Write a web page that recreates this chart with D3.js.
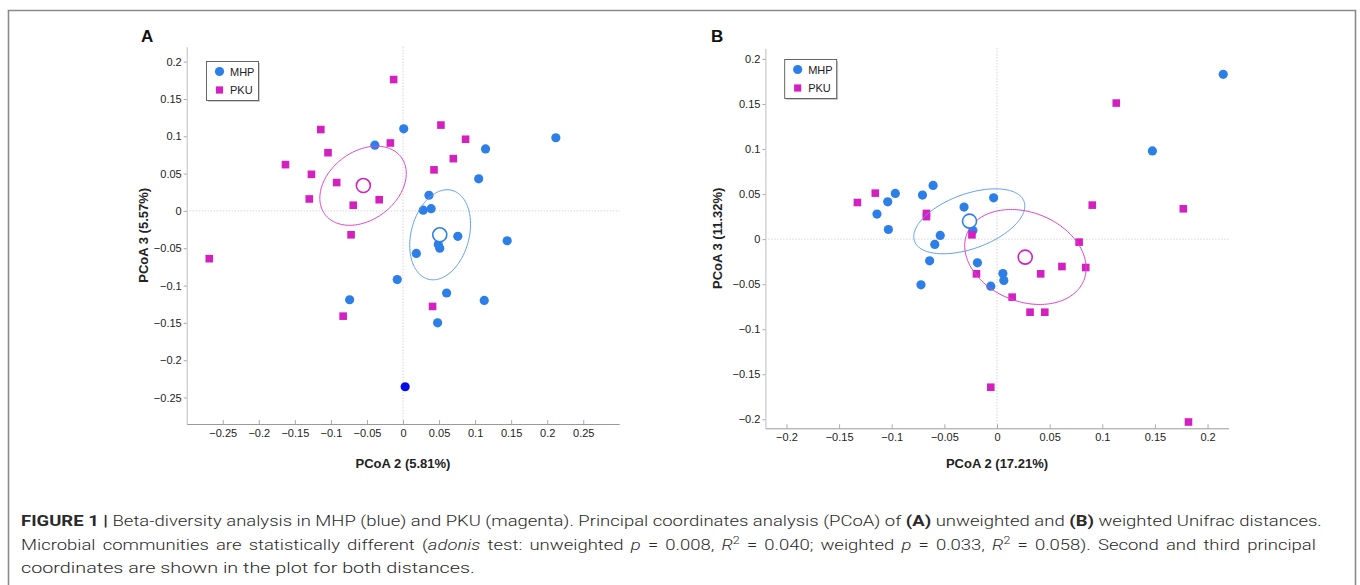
<!DOCTYPE html>
<html><head><meta charset="utf-8">
<script src="https://cdn.jsdelivr.net/npm/d3@7"></script>
<style>
body{margin:0;background:#fff;}
svg{display:block;font-family:"Liberation Sans",Arial,Helvetica,sans-serif;}
</style></head><body>
<svg id="chart" width="1360" height="585"></svg>
<script>
// ---------------- DATA ----------------
// Panel A : unweighted Unifrac, PCoA 2 vs PCoA 3
const mhpA = [[-0.039,0.088],[0.001,0.110],[0.212,0.098],[0.1145,0.083],[0.105,0.043],[0.036,0.021],
  [0.028,0.001],[0.039,0.003],[0.051,-0.050],[0.049,-0.045],[0.076,-0.034],[0.0185,-0.057],
  [0.1445,-0.040],[-0.008,-0.092],[-0.074,-0.119],[0.0605,-0.110],[0.1127,-0.120],[0.048,-0.150]];
const mhpHighlightA = [[0.003,-0.2356]];
const pkuA = [[-0.013,0.176],[-0.114,0.109],[-0.163,0.062],[-0.127,0.049],[-0.104,0.078],[-0.092,0.038],
  [-0.130,0.016],[-0.069,0.0076],[-0.033,0.015],[-0.0175,0.091],[0.0526,0.115],[0.0868,0.096],
  [0.0698,0.070],[0.043,0.055],[-0.072,-0.032],[-0.2687,-0.064],[-0.083,-0.141],[0.041,-0.128]];
const centroidMhpA = [0.051,-0.032];
const centroidPkuA = [-0.055,0.034];
// ellipses: centre, semi-diameter u, conjugate semi-diameter v (data units)
const ellipseMhpA = {c:[0.0515,-0.032], u:[0.0165,0.0595], v:[-0.0388,0.0100]};
const ellipsePkuA = {c:[-0.0554,0.0337], u:[0.0528,0.0384], v:[-0.0284,0.0365]};
const xTicksA = [-0.25,-0.2,-0.15,-0.1,-0.05,0,0.05,0.1,0.15,0.2,0.25];
const yTicksA = [-0.25,-0.2,-0.15,-0.1,-0.05,0,0.05,0.1,0.15,0.2];
const xDomainA = [-0.3,0.3], yDomainA = [-0.2855,0.22];

// Panel B : weighted Unifrac
const mhpB = [[0.2149,0.183],[0.1476,0.098],[-0.0607,0.0597],[-0.0708,0.0489],[-0.0966,0.0508],
  [-0.1038,0.0414],[-0.0032,0.0459],[-0.0313,0.0356],[-0.114,0.0278],[-0.1032,0.0107],[-0.0229,0.0096],
  [-0.0539,0.0041],[-0.0591,-0.0059],[-0.064,-0.0241],[-0.0186,-0.0263],[0.0056,-0.0382],
  [0.0065,-0.0459],[-0.0059,-0.0522],[-0.0722,-0.0507]];
const pkuB = [[0.1133,0.1511],[-0.1326,0.0407],[-0.1156,0.0511],[0.0905,0.0378],[0.177,0.0337],
  [-0.067,0.0286],[-0.067,0.025],[-0.0238,0.0048],[0.078,-0.0033],[0.0617,-0.0304],[0.0843,-0.0315],
  [0.0415,-0.0385],[-0.0195,-0.0385],[0.0144,-0.0644],[0.0314,-0.0811],[0.0454,-0.0811],
  [-0.0059,-0.1644],[0.1819,-0.203]];
const centroidMhpB = [-0.0261,0.020];
const centroidPkuB = [0.0268,-0.020];
const ellipseMhpB = {c:[-0.0263,0.0198], u:[0.0520,0.0221], v:[-0.0089,0.0285]};
const ellipsePkuB = {c:[0.0270,-0.0198], u:[0.0555,-0.0259], v:[0.0157,0.0459]};
const xTicksB = [-0.2,-0.15,-0.1,-0.05,0,0.05,0.1,0.15,0.2];
const yTicksB = [-0.2,-0.15,-0.1,-0.05,0,0.05,0.1,0.15,0.2];
const xDomainB = [-0.22,0.22], yDomainB = [-0.21,0.2119];

const seriesNames = ["MHP","PKU"];

// ---------------- STYLE ----------------
const BLUE = "#2d7fe8", MAG = "#d41fc1", DARKBLUE = "#0a0ae6";
const BLUE_E = "#5d9df0", MAG_E = "#e040cc";

const svg = d3.select("#chart");

// frame
svg.append("path").attr("d","M8.5,585V10.5H1355.5V585").attr("fill","none")
  .attr("stroke","#8a8a8a").attr("stroke-width",1.6);

const fmt = d => d === 0 ? "0" : d3.format("~g")(d);

function drawPanel(o){
  const g = svg.append("g");
  const x = d3.scaleLinear().domain(o.xDomain).range(o.xRange);
  const y = d3.scaleLinear().domain(o.yDomain).range(o.yRange);

  // zero reference lines
  g.append("line").attr("x1",x(0)).attr("x2",x(0)).attr("y1",o.yRange[1]).attr("y2",o.yRange[0])
    .attr("stroke","#c4c4c4").attr("stroke-width",1).attr("stroke-dasharray","1,2");
  g.append("line").attr("x1",o.xRange[0]).attr("x2",o.xRange[1]).attr("y1",y(0)).attr("y2",y(0))
    .attr("stroke","#c4c4c4").attr("stroke-width",1).attr("stroke-dasharray","1,2");

  // axes
  const xa = g.append("g").attr("transform",`translate(0,${o.yRange[0]})`)
    .call(d3.axisBottom(x).tickValues(o.xTicks).tickFormat(fmt).tickSizeInner(-4).tickSizeOuter(0).tickPadding(5));
  const ya = g.append("g").attr("transform",`translate(${o.xRange[0]},0)`)
    .call(d3.axisLeft(y).tickValues(o.yTicks).tickFormat(fmt).tickSizeInner(3).tickSizeOuter(0).tickPadding(2));
  [xa,ya].forEach(a=>{
    a.selectAll("text").attr("font-size",11).attr("fill","#222")
     .attr("font-family",'"Liberation Sans",Arial,sans-serif');
    a.selectAll("line").attr("stroke","#aaa");
  });
  xa.select(".domain").attr("stroke","#9a9a9a");
  ya.select(".domain").attr("stroke","#bdbdbd");

  // points
  g.append("g").selectAll("circle").data(o.mhp).join("circle")
    .attr("cx",d=>x(d[0])).attr("cy",d=>y(d[1])).attr("r",4.6).attr("fill",BLUE);
  if(o.highlight) g.append("g").selectAll("circle").data(o.highlight).join("circle")
    .attr("cx",d=>x(d[0])).attr("cy",d=>y(d[1])).attr("r",4.6).attr("fill",DARKBLUE);
  const s = 7.6;
  g.append("g").selectAll("rect").data(o.pku).join("rect")
    .attr("x",d=>x(d[0])-s/2).attr("y",d=>y(d[1])-s/2).attr("width",s).attr("height",s).attr("fill",MAG);

  // ellipses
  const line = d3.line().curve(d3.curveLinearClosed);
  const ell = e => line(d3.range(0,360,2).map(t=>{
    const a = t*Math.PI/180;
    return [x(e.c[0]+e.u[0]*Math.cos(a)+e.v[0]*Math.sin(a)), y(e.c[1]+e.u[1]*Math.cos(a)+e.v[1]*Math.sin(a))];
  }));
  g.append("path").attr("d",ell(o.ellMhp)).attr("fill","none").attr("stroke",BLUE_E).attr("stroke-width",1);
  g.append("path").attr("d",ell(o.ellPku)).attr("fill","none").attr("stroke",MAG_E).attr("stroke-width",1);

  // centroids
  g.append("circle").attr("cx",x(o.cMhp[0])).attr("cy",y(o.cMhp[1])).attr("r",7)
    .attr("fill","#fff").attr("stroke",BLUE).attr("stroke-width",1.6);
  g.append("circle").attr("cx",x(o.cPku[0])).attr("cy",y(o.cPku[1])).attr("r",7)
    .attr("fill","#fff").attr("stroke",MAG).attr("stroke-width",1.6);

  // legend
  const L = o.legend;
  g.append("rect").attr("x",L[0]+1.5).attr("y",L[1]+1.5).attr("width",52).attr("height",39).attr("fill","#cfcfcf");
  g.append("rect").attr("x",L[0]).attr("y",L[1]).attr("width",52).attr("height",39)
    .attr("fill","#fff").attr("stroke","#555").attr("stroke-width",0.9);
  seriesNames.forEach((n,i)=>{
    const cy = L[1]+10+i*18.5;
    if(i===0) g.append("circle").attr("cx",L[0]+13).attr("cy",cy).attr("r",4.6).attr("fill",BLUE);
    else g.append("rect").attr("x",L[0]+13-3.6).attr("y",cy-3.6).attr("width",7.2).attr("height",7.2).attr("fill",MAG);
    g.append("text").attr("x",L[0]+23.5).attr("y",cy+4).attr("font-size",11).attr("fill","#222").text(n);
  });

  // titles
  g.append("text").attr("x",o.label[0]).attr("y",o.label[1]).attr("font-size",17).attr("font-weight","bold")
    .attr("fill","#111").text(o.labelText);
  g.append("text").attr("x",(o.xRange[0]+o.xRange[1])/2).attr("y",468).attr("text-anchor","middle")
    .attr("font-size",13).attr("font-weight","bold").attr("fill","#222").text(o.xTitle);
  g.append("text").attr("transform",`translate(${o.yTitleX},${(o.yRange[0]+o.yRange[1])/2}) rotate(-90)`)
    .attr("text-anchor","middle").attr("font-size",13).attr("font-weight","bold").attr("fill","#222").text(o.yTitle);
}

drawPanel({xDomain:xDomainA,yDomain:yDomainA,xRange:[186.7,619.3],yRange:[424,46.7],
  xTicks:xTicksA,yTicks:yTicksA,mhp:mhpA,highlight:mhpHighlightA,pku:pkuA,
  ellMhp:ellipseMhpA,ellPku:ellipsePkuA,cMhp:centroidMhpA,cPku:centroidPkuA,
  legend:[206.5,61.5],label:[141,42],labelText:"A",xTitle:"PCoA 2 (5.81%)",yTitle:"PCoA 3 (5.57%)",yTitleX:148});

drawPanel({xDomain:xDomainB,yDomain:yDomainB,xRange:[765.4,1228.6],yRange:[428.3,48.3],
  xTicks:xTicksB,yTicks:yTicksB,mhp:mhpB,pku:pkuB,
  ellMhp:ellipseMhpB,ellPku:ellipsePkuB,cMhp:centroidMhpB,cPku:centroidPkuB,
  legend:[784.7,59.5],label:[711,42],labelText:"B",xTitle:"PCoA 2 (17.21%)",yTitle:"PCoA 3 (11.32%)",yTitleX:722});

// ---------------- CAPTION ----------------
const captionLines = [
  [["FIGURE 1 |","b"],[" Beta-diversity analysis in MHP (blue) and PKU (magenta). Principal coordinates analysis (PCoA) of ",""],
   ["(A)","b"],[" unweighted and ",""],["(B)","b"],[" weighted Unifrac distances.",""]],
  [["Microbial communities are statistically different (",""],["adonis","i"],[" test: unweighted ",""],["p","i"],
   [" = 0.008, ",""],["R","i"],["2","sup"],[" = 0.040; weighted ",""],["p","i"],[" = 0.033, ",""],["R","i"],["2","sup"],
   [" = 0.058). Second and third principal",""]],
  [["coordinates are shown in the plot for both distances.",""]]
];
const capG = svg.append("g");
const texts = captionLines.map((segs,i)=>{
  const t = capG.append("text").attr("x",0).attr("y",0)
    .attr("font-family","Roboto, 'Liberation Sans', sans-serif").attr("font-weight",300)
    .attr("font-size",15.5).attr("fill","#2a2a2a");
  let prevSup = false;
  segs.forEach(([txt,st])=>{
    const ts = t.append("tspan").text(txt);
    if(st==="b") ts.attr("font-weight",700);
    if(st==="i") ts.attr("font-style","italic");
    if(st==="sup"){ ts.attr("font-size",10.5).attr("dy",-6); prevSup = true; }
    else if(prevSup){ ts.attr("dy",6); prevSup = false; }
  });
  return t;
});
const widths = texts.map(t=>t.node().getComputedTextLength());
const k = 1302 / widths[0];
// justified second line: stretch word spacing to fill the measure
const spaces2 = captionLines[1].map(s=>s[0]).join("").split(" ").length - 1;
const ws = (1296 / k - widths[1]) / spaces2;
texts[1].attr("word-spacing", ws);
texts[0].attr("transform",`translate(21,526) scale(${k},1)`);
texts[1].attr("transform",`translate(21,549.5) scale(${k},1)`);
texts[2].attr("transform",`translate(21,573) scale(${k*1.07},1)`);
</script>
</body></html>
